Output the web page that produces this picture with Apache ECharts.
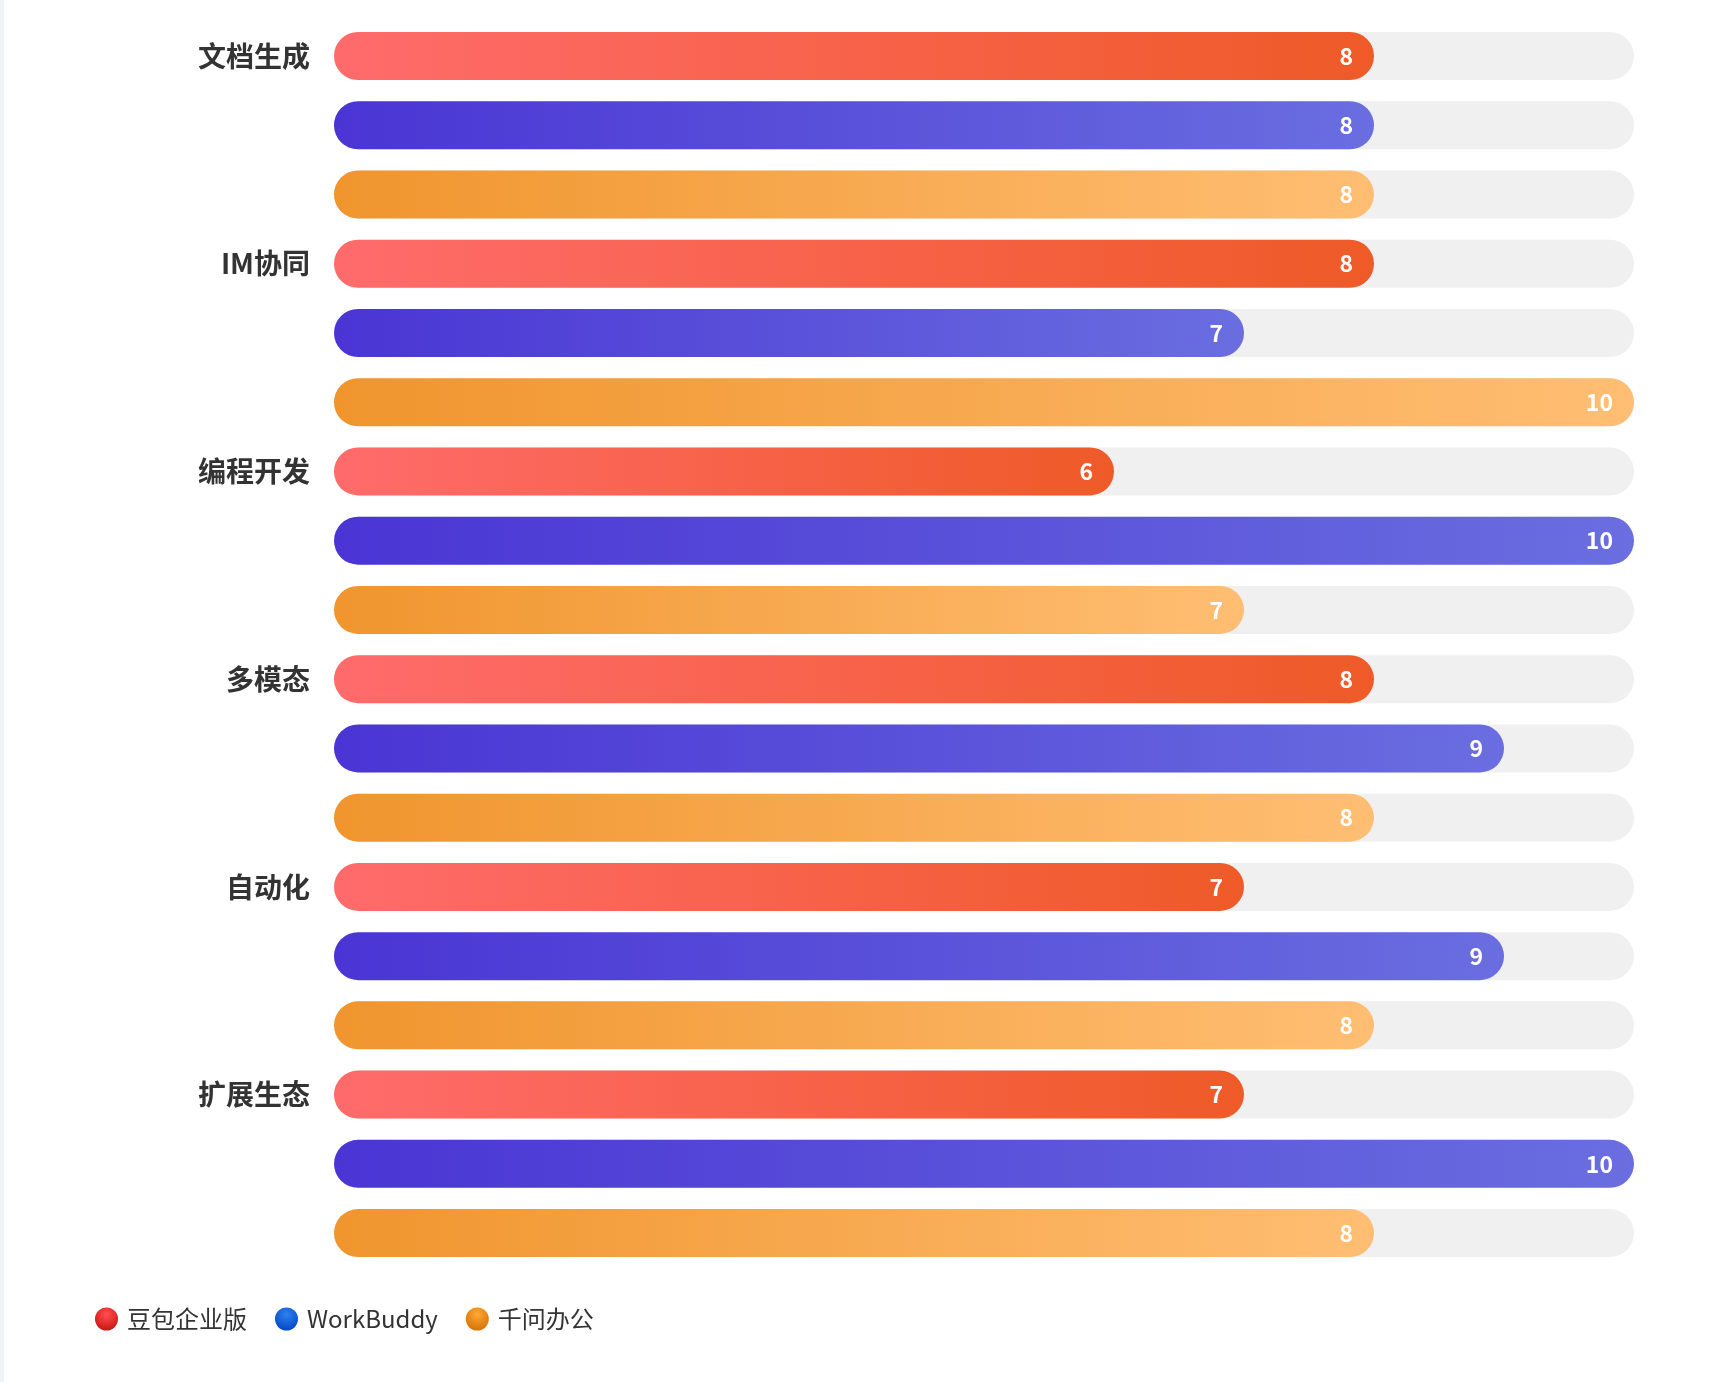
<!DOCTYPE html>
<html>
	<head>
		<meta charset="utf-8">
		<title>chart</title>
		<script src="https://cdn.jsdelivr.net/npm/echarts@6/dist/echarts.min.js"></script>
		<style>
			html,body{margin:0;padding:0;background:#fff;}
			#x{width:1712px;height:1382px;background:#fff;box-shadow:inset 4px 0 0 #f0f2f5;}
		</style>
	</head>
	<body>
		<div id="x"></div>
	</body>

	<script type="text/javascript">
		// 各项能力评分
		var categories=['文档生成','IM协同','编程开发','多模态','自动化','扩展生态'];
		var names=['豆包企业版','WorkBuddy','千问办公'];
		var doubao=[8,8,6,8,7,7];
		var workbuddy=[8,7,10,9,9,10];
		var qianwen=[8,10,7,8,8,8];
		var maxScore=10;

		var font='"Noto Sans CJK SC","Noto Sans",sans-serif';

		function grad(c1,c2){
			return new echarts.graphic.LinearGradient(0,0,1,0,[
				{offset:0,color:c1},{offset:1,color:c2}
			]);
		}
		function ball(light,dark){
			return {type:'radial',x:0.5,y:0.3,r:0.75,colorStops:[
				{offset:0,color:light},{offset:1,color:dark}
			]};
		}

		function makeSeries(name,data,c1,c2){
			return {
				name:name,
				type:'bar',
				data:data,
				barWidth:48,
				barGap:'44.25%',
				showBackground:true,
				backgroundStyle:{color:'#f0f0f0',borderRadius:24},
				itemStyle:{color:grad(c1,c2),borderRadius:24},
				label:{
					show:true,
					position:'insideRight',
					distance:21,
					color:'#fff',
					fontSize:23,
					fontWeight:600,
					fontFamily:font
				}
			};
		}

		var option={
			animation:false,
			backgroundColor:'rgba(0,0,0,0)',
			grid:{left:334,right:78,top:21.4,bottom:114.3},
			legend:{
				left:90,
				top:1302,
				icon:'circle',
				itemWidth:23,
				itemHeight:23,
				itemGap:28,
				textStyle:{fontSize:24,color:'#333',fontFamily:font,padding:[0,0,0,4]},
				data:[
					{name:names[0],itemStyle:{color:ball('#ff5050','#c81010')}},
					{name:names[1],itemStyle:{color:ball('#3080f0','#0044c0')}},
					{name:names[2],itemStyle:{color:ball('#ffa838','#d46e00')}}
				]
			},
			xAxis:{type:'value',min:0,max:maxScore,show:false},
			yAxis:{
				type:'category',
				inverse:true,
				data:categories,
				axisLine:{show:false},
				axisTick:{show:false},
				axisLabel:{
					margin:24,
					fontSize:28,
					fontWeight:'bold',
					color:'#333',
					fontFamily:font,
					lineHeight:69.24,
					// 标签对齐到每组第一根柱子
					formatter:function(v){return v+'\n \n ';}
				}
			},
			series:[
				makeSeries(names[0],doubao,'#ff6b6b','#ef5a28'),
				makeSeries(names[1],workbuddy,'#4a35d4','#6a6ee0'),
				makeSeries(names[2],qianwen,'#f0952e','#ffbe73')
			]
		};

		var mychart=echarts.init(document.getElementById('x'));
		mychart.setOption(option);
	</script>
</html>
